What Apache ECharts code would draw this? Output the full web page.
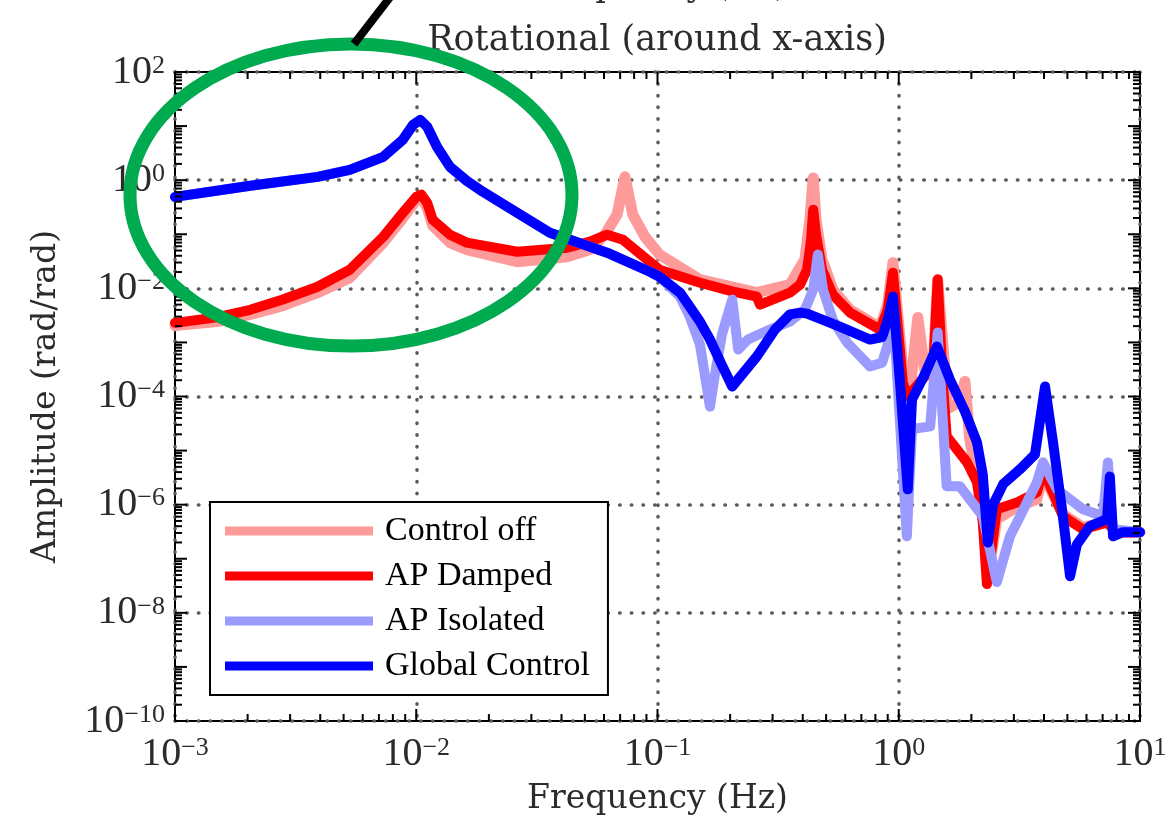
<!DOCTYPE html>
<html>
<head>
<meta charset="utf-8">
<script src="https://cdn.jsdelivr.net/npm/echarts@6/dist/echarts.min.js"></script>
<style>
  html, body { margin: 0; padding: 0; background: #fff; }
  #chart { width: 1170px; height: 821px; }
</style>
</head>
<body>
<div id="chart"></div>
<script>
// frequency (Hz), amplitude (rad/rad)
const controlOff = [
  [0.001, 2.05e-3], [0.00149, 2.43e-3], [0.00205, 3.3e-3], [0.0028, 4.8e-3], [0.0039, 8.3e-3],
  [0.0053, 0.0157], [0.0073, 0.07], [0.0088, 0.2], [0.01, 0.43], [0.0105, 0.47],
  [0.0111, 0.31], [0.0117, 0.144], [0.0138, 0.07], [0.0162, 0.052], [0.0262, 0.031],
  [0.0422, 0.0385], [0.0525, 0.052], [0.0605, 0.098], [0.068, 0.23], [0.0733, 1.15],
  [0.079, 0.23], [0.0887, 0.09], [0.102, 0.042], [0.15, 0.0145], [0.258, 8.3e-3],
  [0.354, 0.0117], [0.408, 0.034], [0.428, 0.185], [0.442, 1.1], [0.454, 0.185],
  [0.481, 0.034], [0.533, 9.5e-3], [0.628, 4.0e-3], [0.836, 1.88e-3], [0.9, 5.0e-3],
  [0.946, 0.0298], [1.04, 3.2e-4], [1.11, 1.09e-4], [1.2, 2.9e-3], [1.28, 3.2e-4],
  [1.39, 3.6e-4], [1.45, 0.0145], [1.6, 6e-5], [1.8, 8e-5], [1.88, 1.9e-4],
  [1.97, 1.6e-5], [2.23, 8.2e-7], [2.39, 8.6e-8], [2.55, 5.4e-7], [3.09, 9e-7],
  [3.74, 1.26e-6], [3.96, 3.6e-6], [4.8, 6.6e-7], [5.8, 3.8e-7], [7.3, 4.8e-7],
  [8.0, 3.1e-7], [10, 3.1e-7]
]
const apDamped = [
  [0.001, 2.3e-3], [0.00149, 2.9e-3], [0.00205, 4.0e-3], [0.0028, 6.2e-3], [0.0039, 1.07e-2],
  [0.0053, 0.0221], [0.0073, 0.09], [0.0088, 0.25], [0.01, 0.49], [0.0105, 0.54],
  [0.0111, 0.38], [0.0117, 0.185], [0.0138, 0.098], [0.0162, 0.07], [0.0262, 0.0475],
  [0.0422, 0.0564], [0.0525, 0.073], [0.0618, 0.098], [0.072, 0.079], [0.093, 0.031],
  [0.102, 0.0221], [0.15, 0.0127], [0.206, 8.7e-3], [0.258, 7.0e-3], [0.266, 5.0e-3],
  [0.354, 8.3e-3], [0.39, 0.0117], [0.417, 0.0221], [0.433, 0.079], [0.442, 0.283],
  [0.454, 0.098], [0.481, 0.0221], [0.533, 7.6e-3], [0.628, 3.56e-3], [0.836, 1.73e-3],
  [0.9, 4.0e-3], [0.946, 0.0195], [1.04, 1.8e-4], [1.09, 1e-4], [1.39, 3.6e-4],
  [1.45, 0.0145], [1.52, 2.06e-4], [1.58, 1.83e-5], [1.92, 6.05e-6], [2.11, 2.6e-6],
  [2.23, 4.7e-7], [2.32, 3.4e-8], [2.55, 8.2e-7], [3.09, 1.1e-6], [3.74, 1.69e-6],
  [3.96, 4.5e-6], [4.8, 6.1e-7], [5.8, 3.5e-7], [7.3, 4.7e-7], [8.0, 3.1e-7], [10, 3.1e-7]
]
const apIsolated = [
  [0.001, 0.49], [0.00205, 0.79], [0.0039, 1.15], [0.0053, 1.55], [0.0073, 2.7],
  [0.0088, 5.6], [0.0097, 10.5], [0.0104, 13], [0.0111, 9.7], [0.0122, 4.1],
  [0.0138, 1.76], [0.0162, 0.97], [0.0189, 0.61], [0.0262, 0.25], [0.0358, 0.107],
  [0.0618, 0.0456], [0.093, 0.0203], [0.102, 0.0164], [0.124, 7.0e-3], [0.136, 3.0e-3],
  [0.15, 9.1e-4], [0.157, 2.55e-4], [0.165, 6.5e-5], [0.173, 2.55e-4], [0.185, 1.4e-3],
  [0.204, 6.2e-3], [0.216, 7.4e-4], [0.237, 1.13e-3], [0.292, 1.73e-3], [0.354, 2.43e-3],
  [0.408, 4.0e-3], [0.442, 9.5e-3], [0.462, 0.042], [0.485, 9.5e-3], [0.533, 2.6e-3],
  [0.611, 9.9e-4], [0.76, 3.6e-4], [0.853, 4.2e-4], [0.9, 9.1e-4], [0.946, 4.6e-3],
  [1.01, 3.8e-5], [1.08, 2.6e-7], [1.135, 2.5e-5], [1.35, 2.8e-5], [1.45, 1.52e-3],
  [1.58, 2.2e-6], [1.79, 2.2e-6], [2.23, 6.1e-7], [2.55, 3.7e-8], [2.89, 2.6e-7],
  [3.09, 4.7e-7], [3.74, 2.6e-6], [3.96, 6.05e-6], [4.53, 1.92e-6], [5.8, 8.2e-7],
  [7.03, 6.1e-7], [7.36, 6.05e-6], [7.73, 3.5e-7], [10, 3.1e-7]
]
const globalControl = [
  [0.001, 0.49], [0.00205, 0.79], [0.0039, 1.15], [0.0053, 1.55], [0.0073, 2.7],
  [0.0088, 5.6], [0.0097, 10.5], [0.0104, 13], [0.0111, 9.7], [0.0122, 4.1],
  [0.0138, 1.76], [0.0162, 0.97], [0.0189, 0.61], [0.0262, 0.25], [0.0358, 0.107],
  [0.0618, 0.0456], [0.093, 0.0203], [0.102, 0.0164], [0.124, 8.3e-3], [0.136, 4.6e-3],
  [0.15, 2.43e-3], [0.165, 1.13e-3], [0.182, 4.4e-4], [0.204, 1.53e-4], [0.224, 2.55e-4],
  [0.258, 5.5e-4], [0.307, 1.73e-3], [0.354, 3.3e-3], [0.39, 3.56e-3], [0.417, 3.4e-3],
  [0.57, 1.96e-3], [0.76, 1.13e-3], [0.853, 1.26e-3], [0.9, 2.6e-3], [0.946, 7.0e-3],
  [1.01, 2.06e-4], [1.09, 1.92e-6], [1.135, 8.8e-5], [1.28, 2.55e-4], [1.44, 8.4e-4],
  [1.63, 2.06e-4], [1.88, 5.3e-5], [2.11, 1.42e-5], [2.23, 3.6e-6], [2.34, 2.0e-7],
  [2.46, 1.0e-6], [2.71, 2.4e-6], [3.18, 4.5e-6], [3.67, 8.5e-6], [4.04, 1.53e-4],
  [4.36, 1.42e-5], [4.75, 8.2e-7], [5.13, 4.75e-8], [5.48, 1.85e-7], [6.2, 4.0e-7],
  [7.3, 5.4e-7], [7.5, 3.3e-6], [7.73, 2.6e-7], [8.5, 3.1e-7], [10, 3.1e-7]
]
const seriesNames = ['Control off', 'AP Damped', 'AP Isolated', 'Global Control']
const xExponents = ['−3', '−2', '−1', '0', '1']
const yExponents = ['−10', '−8', '−6', '−4', '−2', '0', '2']

// log minor ticks (2..9 per decade)
const xDecades = [1e-3, 1e-2, 1e-1, 1, 10]
const yDecades = [1e-10, 1e-9, 1e-8, 1e-7, 1e-6, 1e-5, 1e-4, 1e-3, 1e-2, 1e-1, 1, 10, 100]
const minorOf = (decades) => {
  const out = []
  decades.slice(0, -1).forEach((d) => {
    for (let k = 2; k <= 9; k++) out.push(k * d)
  })
  return out
}
const xMinor = minorOf(xDecades)
const yMinor = minorOf(yDecades)

const serif = 'DejaVu Serif'
const times = 'Liberation Serif'
const textColor = '#2b2b2b'

const richLabel = {
  b: { fontFamily: times, fontSize: 40, color: textColor, lineHeight: 38 },
  sup: { fontFamily: times, fontSize: 26, color: textColor, verticalAlign: 'top', lineHeight: 26 },
}

function tickSeries(values, axis, len) {
  return {
    type: 'custom',
    silent: true,
    clip: false,
    z: 5,
    data: values.map(v => (axis === 'x' ? [v, 1] : [1, v])),
    renderItem: (params, api) => {
      const cs = params.coordSys
      const p = api.coord([api.value(0), api.value(1)])
      const style = { stroke: '#000', lineWidth: 2 }
      if (axis === 'x') {
        const b = cs.y + cs.height
        return {
          type: 'group',
          children: [
            { type: 'line', shape: { x1: p[0], y1: b, x2: p[0], y2: b - len }, style },
            { type: 'line', shape: { x1: p[0], y1: cs.y, x2: p[0], y2: cs.y + len }, style },
          ],
        }
      }
      const r = cs.x + cs.width
      return {
        type: 'group',
        children: [
          { type: 'line', shape: { x1: cs.x, y1: p[1], x2: cs.x + len, y2: p[1] }, style },
          { type: 'line', shape: { x1: r, y1: p[1], x2: r - len, y2: p[1] }, style },
        ],
      }
    },
  }
}

const dotted = { color: '#5a5a5a', width: 3.5, type: [0.5, 11.2], cap: 'round' }

const lineSeries = (name, data, color, width) => ({
  name,
  type: 'line',
  data,
  color,
  showSymbol: false,
  symbol: 'none',
  smooth: false,
  z: 3,
  lineStyle: { color, width, join: 'round', cap: 'round' },
})

const chartOptions = {
  animation: false,
  grid: {
    left: 175,
    right: 30,
    top: 72,
    bottom: 99,
    show: true,
    borderColor: '#000',
    borderWidth: 2,
    backgroundColor: 'transparent',
  },
  legend: {
    orient: 'vertical',
    left: 210,
    top: 502,
    selectedMode: false,
    data: seriesNames.map(n => ({ name: n, icon: 'rect' })),
    itemWidth: 148,
    itemHeight: 9,
    itemGap: 11,
    padding: [12, 18, 12, 15],
    backgroundColor: '#fff',
    borderColor: '#000',
    borderWidth: 2,
    textStyle: {
      fontFamily: times,
      fontSize: 34,
      color: '#000',
      lineHeight: 32,
      padding: [0, 0, 0, 7],
    },
  },
  xAxis: {
    type: 'log',
    logBase: 10,
    min: 1e-3,
    max: 10,
    interval: 1,
    name: 'Frequency (Hz)',
    nameLocation: 'middle',
    nameGap: 62,
    nameTextStyle: { fontFamily: serif, fontSize: 33, color: textColor },
    axisLine: { show: false },
    axisTick: { show: false },
    splitLine: { show: true, lineStyle: dotted },
    axisLabel: {
      margin: 14,
      formatter: (v) => {
        const e = Math.round(Math.log10(v))
        return `{b|10}{sup|${xExponents[e + 3]}}`
      },
      rich: richLabel,
    },
  },
  yAxis: {
    type: 'log',
    logBase: 10,
    min: 1e-10,
    max: 100,
    interval: 2,
    name: 'Amplitude (rad/rad)',
    nameLocation: 'middle',
    nameGap: 112,
    nameTextStyle: { fontFamily: serif, fontSize: 33, color: textColor },
    axisLine: { show: false },
    axisTick: { show: false },
    splitLine: { show: true, lineStyle: dotted },
    axisLabel: {
      margin: 10,
      formatter: (v) => {
        const e = Math.round(Math.log10(v))
        return `{b|10}{sup|${yExponents[(e + 10) / 2]}}`
      },
      rich: richLabel,
    },
  },
  series: [
    lineSeries(seriesNames[0], controlOff, '#ff9a9a', 11),
    lineSeries(seriesNames[1], apDamped, '#ff0000', 10),
    lineSeries(seriesNames[2], apIsolated, '#9a9aff', 10),
    lineSeries(seriesNames[3], globalControl, '#0000ff', 10),
    tickSeries(xMinor, 'x', 7),
    tickSeries(xDecades, 'x', 12),
    tickSeries(yMinor, 'y', 7),
    tickSeries(yDecades, 'y', 12),
  ],
  graphic: [
    {
      type: 'text',
      x: 657,
      y: -13,
      style: { text: 'Frequency (Hz)', font: `33px "${serif}"`, fill: textColor, align: 'center', verticalAlign: 'middle' },
    },
    {
      type: 'text',
      x: 657,
      y: 41,
      style: { text: 'Rotational (around x-axis)', font: `35px "${serif}"`, fill: textColor, align: 'center', verticalAlign: 'middle' },
    },
    {
      type: 'ellipse',
      z: 100,
      shape: { cx: 351, cy: 195, rx: 221, ry: 151 },
      style: { fill: 'none', stroke: '#00aa4e', lineWidth: 13 },
    },
    {
      type: 'line',
      z: 100,
      shape: { x1: 354, y1: 44, x2: 391, y2: -4 },
      style: { stroke: '#000', lineWidth: 8 },
    },
  ],
}

const chartInstance = echarts.init(document.getElementById('chart'))
chartInstance.setOption(chartOptions)
</script>
</body>
</html>
